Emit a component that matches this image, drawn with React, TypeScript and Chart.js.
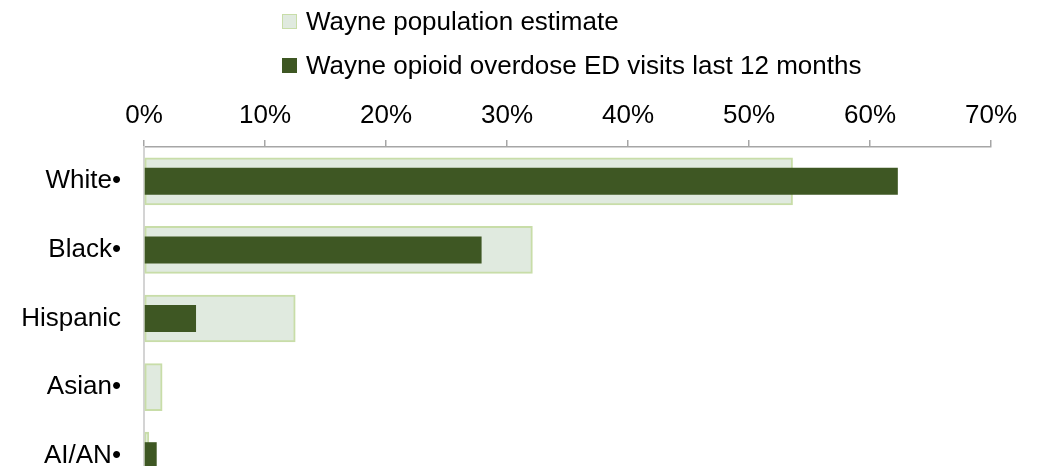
import { useEffect, useRef } from "react";
import { Chart, registerables } from "chart.js";

Chart.register(...registerables);

const categories = ["White•", "Black•", "Hispanic", "Asian•", "AI/AN•"];
const populationEstimate = [53.6, 32.1, 12.5, 1.5, 0.4];
const overdoseVisits = [62.3, 27.9, 4.3, 0, 1.05];
const tickValues = [0, 10, 20, 30, 40, 50, 60, 70];

const seriesLabels = [
  "Wayne population estimate",
  "Wayne opioid overdose ED visits last 12 months",
];

const FONT = '"Liberation Sans", Arial, sans-serif';
const DARK = "#3E5723";
const LIGHT = "#E0EADF";
const LIGHT_BORDER = "#C8DDA8";

export default function App() {
  const canvasRef = useRef<HTMLCanvasElement>(null);
  const chartRef = useRef<Chart | null>(null);

  useEffect(() => {
    if (!canvasRef.current) return;
    if (chartRef.current) chartRef.current.destroy();

    chartRef.current = new Chart(canvasRef.current, {
      type: "bar",
      data: {
        labels: categories,
        datasets: [
          {
            label: seriesLabels[0],
            data: populationEstimate,
            backgroundColor: LIGHT,
            borderColor: LIGHT_BORDER,
            borderWidth: 2,
            borderSkipped: false,
            barThickness: 47,
            grouped: false,
            order: 1,
          },
          {
            label: seriesLabels[1],
            data: overdoseVisits,
            backgroundColor: DARK,
            borderWidth: 0,
            barThickness: 27,
            inflateAmount: 0,
            grouped: false,
            order: 0,
          },
        ],
      },
      options: {
        indexAxis: "y",
        responsive: false,
        animation: false,
        layout: { padding: { top: 0, right: 50, bottom: 0, left: 0 } },
        plugins: {
          legend: { display: false },
          tooltip: { enabled: false },
        },
        scales: {
          x: {
            position: "top",
            min: 0,
            max: 70,
            afterBuildTicks: (scale) => {
              scale.ticks = tickValues.map((v) => ({ value: v }));
            },
            afterFit: (scale) => {
              scale.height = 147;
            },
            ticks: {
              padding: 9,
              color: "#000",
              font: { family: FONT, size: 26 },
              callback: (v) => `${v}%`,
            },
            grid: {
              drawOnChartArea: false,
              drawTicks: true,
              tickLength: 7,
              color: "#A6A6A6",
              lineWidth: 1.5,
            },
            border: { display: true, color: "#A6A6A6", width: 1.5 },
          },
          y: {
            afterFit: (scale) => {
              scale.width = 144;
              scale.paddingTop = 0;
              scale.paddingBottom = 0;
            },
            ticks: {
              padding: 23,
              color: "#000",
              font: { family: FONT, size: 26 },
            },
            grid: { display: false, drawTicks: false },
            border: { display: true, color: "#D4D4D4", width: 2 },
          },
        },
      },
    });

    return () => {
      if (chartRef.current) {
        chartRef.current.destroy();
        chartRef.current = null;
      }
    };
  }, []);

  const legendItem = (label: string, top: number, fill: string, stroke: string) => (
    <div
      style={{
        position: "absolute",
        left: 282,
        top,
        height: 26,
        display: "flex",
        alignItems: "center",
        whiteSpace: "nowrap",
      }}
    >
      <span
        style={{
          display: "inline-block",
          width: 15,
          height: 15,
          boxSizing: "border-box",
          background: fill,
          border: `1.5px solid ${stroke}`,
          marginRight: 9,
        }}
      />
      <span style={{ fontFamily: FONT, fontSize: 26, lineHeight: "26px", color: "#000" }}>
        {label}
      </span>
    </div>
  );

  return (
    <div
      style={{
        position: "fixed",
        left: 0,
        top: 0,
        width: 1041,
        height: 466,
        overflow: "hidden",
        background: "#fff",
      }}
    >
      <canvas
        ref={canvasRef}
        width={1041}
        height={490}
        style={{ position: "absolute", left: 0, top: 0, display: "block" }}
      />
      {legendItem(seriesLabels[0], 8, LIGHT, LIGHT_BORDER)}
      {legendItem(seriesLabels[1], 52, DARK, DARK)}
    </div>
  );
}
